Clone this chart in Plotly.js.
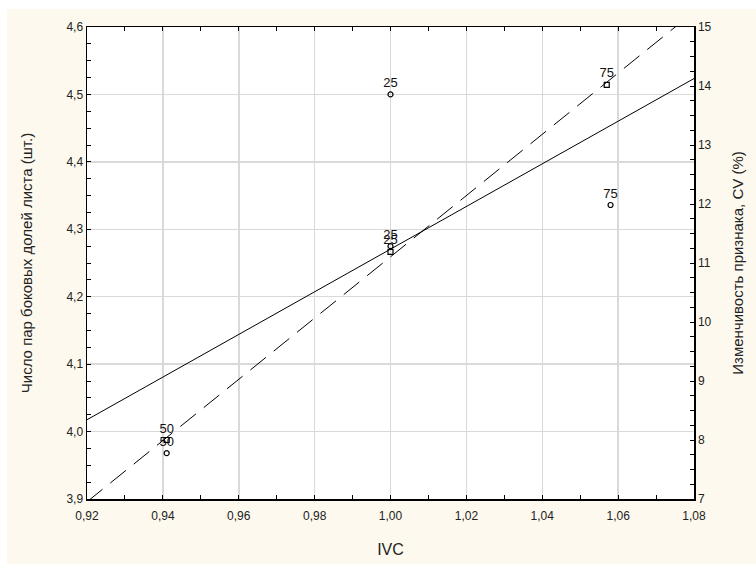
<!DOCTYPE html>
<html>
<head>
<meta charset="utf-8">
<script src="https://cdn.plot.ly/plotly-3.0.1.min.js"></script>
<style>html,body{margin:0;padding:0;background:#fff;}#chart{width:756px;height:566px;}</style>
</head>
<body>
<div id="chart"></div>
<script>
// Series 1 (left axis, circles): Число пар боковых долей листа
const ivcLeft = [1.000, 1.000, 1.058, 0.941];
const lobesLeft = [4.50, 4.275, 4.336, 3.968];
const labelsLeft = ["25", "25", "75", "50"];

// Series 2 (right axis, squares): Изменчивость признака, CV (%)
const ivcRight = [0.941, 1.000, 1.057];
const cvRight = [8.0, 11.19, 14.02];
const labelsRight = ["50", "25", "75"];

const xTickVals = [0.92, 0.94, 0.96, 0.98, 1.00, 1.02, 1.04, 1.06, 1.08];

function fit(xs, ys) {
  const n = xs.length;
  const mx = xs.reduce((a, b) => a + b, 0) / n;
  const my = ys.reduce((a, b) => a + b, 0) / n;
  let sxy = 0, sxx = 0;
  for (let i = 0; i < n; i++) { sxy += (xs[i] - mx) * (ys[i] - my); sxx += (xs[i] - mx) ** 2; }
  const b = sxy / sxx;
  return x => my + b * (x - mx);
}
const xr = [xTickVals[0], xTickVals[xTickVals.length - 1]];
const fL = fit(ivcLeft, lobesLeft);
const fR = fit(ivcRight, cvRight);

const font = "Liberation Sans, Arial, sans-serif";
const W = 756, H = 566, mL = 87, mR = 62, mT = 27, mB = 67;
const pw = W - mL - mR, ph = H - mT - mB;
const px = v => (v - mL) / pw;
const py = v => (H - mB - v) / ph;

const traces = [
  { x: xr, y: xr.map(fL), mode: 'lines', line: { color: '#000', width: 1 }, hoverinfo: 'skip', showlegend: false, yaxis: 'y' },
  { x: xr, y: xr.map(fR), mode: 'lines', line: { color: '#000', width: 1, dash: '20px,10px' }, hoverinfo: 'skip', showlegend: false, yaxis: 'y2' },
  { x: ivcLeft, y: lobesLeft, mode: 'markers+text', text: labelsLeft, textposition: 'top center',
    textfont: { family: font, size: 13, color: '#111' },
    marker: { symbol: 'circle-open', size: 5, color: '#000', line: { width: 1.2, color: '#000' } },
    showlegend: false, yaxis: 'y', cliponaxis: false },
  { x: ivcRight, y: cvRight, mode: 'markers+text', text: labelsRight, textposition: 'top center',
    textfont: { family: font, size: 13, color: '#111' },
    marker: { symbol: 'square-open', size: 5, color: '#000', line: { width: 1.2, color: '#000' } },
    showlegend: false, yaxis: 'y2', cliponaxis: false }
];

const layout = {
  width: W, height: H,
  margin: { l: mL, r: mR, t: mT, b: mB, pad: 0 },
  paper_bgcolor: '#fdf9ee',
  plot_bgcolor: '#ffffff',
  separators: ', ',
  font: { family: font, size: 12, color: '#222' },
  showlegend: false,
  xaxis: {
    range: xr, tickvals: xTickVals, tickformat: '.2f',
    showgrid: true, gridcolor: '#d9d9d9', gridwidth: 1.5,
    zeroline: false, showline: true, linecolor: '#000', linewidth: 1.5, mirror: 'allticks',
    ticks: 'inside', ticklen: 4, tickcolor: '#000', tickwidth: 1, ticklabelstandoff: 5,
    minor: { dtick: 0.01, ticks: 'inside', ticklen: 4, tickcolor: '#000', showgrid: false },
    tickfont: { family: font, size: 12, color: '#222' },
    title: { text: 'IVC', font: { family: font, size: 16, color: '#222' }, standoff: 22 }
  },
  yaxis: {
    range: [3.9, 4.6], dtick: 0.1, tick0: 3.9, tickformat: '.1f',
    showgrid: true, gridcolor: '#d9d9d9', gridwidth: 1.5,
    zeroline: false, showline: true, linecolor: '#000', linewidth: 1.5, mirror: true,
    ticks: 'inside', ticklen: 4, tickcolor: '#000',
    minor: { dtick: 0.025, ticks: 'inside', ticklen: 4, tickcolor: '#000', showgrid: false },
    tickfont: { family: font, size: 12, color: '#222' },
    title: { text: 'Число пар боковых долей листа (шт.)', font: { family: font, size: 15, color: '#222' }, standoff: 30 }
  },
  yaxis2: {
    overlaying: 'y', side: 'right', range: [7, 15], dtick: 1, tick0: 7,
    showgrid: false, zeroline: false, showline: true, linecolor: '#000', linewidth: 1.5,
    ticks: 'inside', ticklen: 4, tickcolor: '#000',
    minor: { dtick: 0.25, ticks: 'inside', ticklen: 4, tickcolor: '#000', showgrid: false },
    tickfont: { family: font, size: 12, color: '#222' },
    title: { text: 'Изменчивость признака, CV (%)', font: { family: font, size: 15, color: '#222' }, standoff: 22 }
  },
  shapes: [
    { type: 'rect', xref: 'paper', yref: 'paper', layer: 'below', x0: px(0), x1: px(7), y0: py(H), y1: py(0), fillcolor: '#fff', line: { width: 0 } },
    { type: 'rect', xref: 'paper', yref: 'paper', layer: 'below', x0: px(0), x1: px(W), y0: py(9), y1: py(0), fillcolor: '#fff', line: { width: 0 } },
    { type: 'rect', xref: 'paper', yref: 'paper', layer: 'below', x0: px(0), x1: px(W), y0: py(H), y1: py(564), fillcolor: '#fff', line: { width: 0 } }
  ]
};

Plotly.newPlot('chart', traces, layout, { displayModeBar: false, staticPlot: true });
</script>
</body>
</html>
